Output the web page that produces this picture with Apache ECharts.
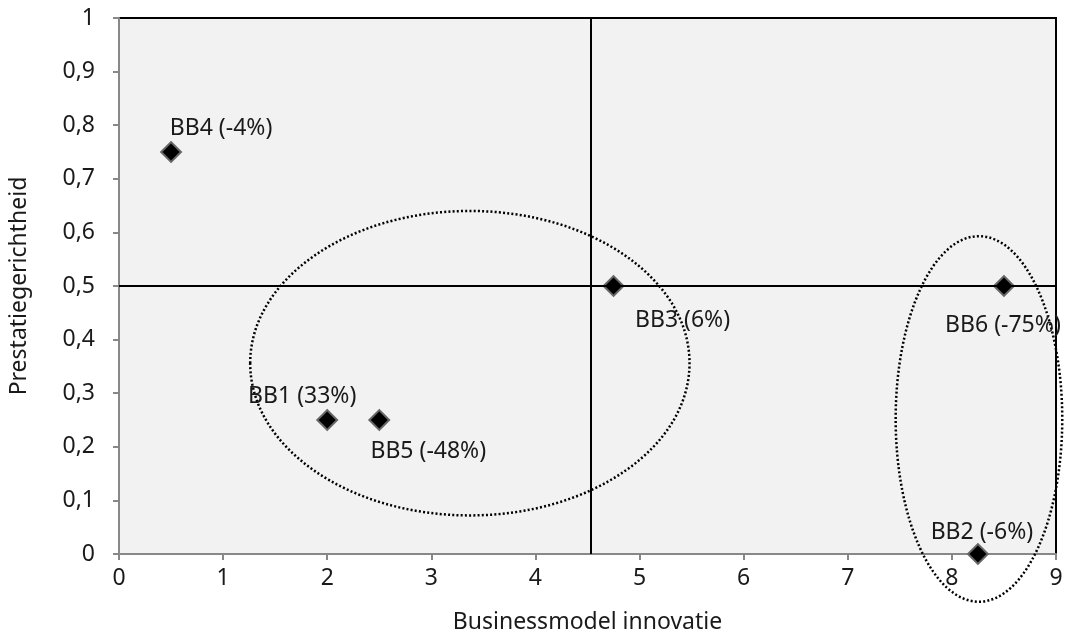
<!DOCTYPE html>
<html>
<head>
<meta charset="utf-8">
<script src="https://cdn.jsdelivr.net/npm/echarts@6/dist/echarts.min.js"></script>
<style>
  html, body { margin: 0; padding: 0; background: #fff; }
  #chart { width: 1067px; height: 635px; }
</style>
</head>
<body>
<div id="chart"></div>
<script>
// business units
const names = ['BB1', 'BB2', 'BB3', 'BB4', 'BB5', 'BB6'];
const changes = ['33%', '-6%', '6%', '-4%', '-48%', '-75%'];
const innovation = [2, 8.25, 4.75, 0.5, 2.5, 8.5];
const performance = [0.25, 0, 0.5, 0.75, 0.25, 0.5];

// quadrant lines
const splitX = 4.53;
const splitY = 0.5;

// dotted ellipses: center x, center y, radius x, radius y (data units)
const ellipses = [
  [3.37, 0.356, 2.11, 0.284],
  [8.26, 0.252, 0.80, 0.341]
];

// label offsets from marker center (px)
const labelOffset = {
  BB1: [-25, -24], BB2: [4, -22], BB3: [69, 34],
  BB4: [50, -24], BB5: [49, 31], BB6: [-1, 39]
};

const FONT = 'Noto Sans';
const FS = 23;

const chart = echarts.init(document.getElementById('chart'));

const points = names.map((n, i) => ({
  name: n,
  value: [innovation[i], performance[i]],
  label: {
    show: true,
    position: 'inside',
    offset: labelOffset[n],
    formatter: n + ' (' + changes[i] + ')'
  }
}));

const option = {
  animation: false,
  grid: {
    left: 119, right: 11, top: 18, bottom: 81,
    outerBoundsMode: 'none',
    containLabel: false,
    show: true,
    backgroundColor: '#f2f2f2',
    borderColor: '#000',
    borderWidth: 2
  },
  xAxis: {
    type: 'value',
    min: 0, max: 9, interval: 1,
    name: 'Businessmodel innovatie',
    nameLocation: 'middle',
    nameGap: 57,
    nameTextStyle: { fontFamily: FONT, fontSize: FS, color: '#1a1a1a' },
    axisLine: { show: true, onZero: false, lineStyle: { color: '#888', width: 2 } },
    axisTick: { show: true, length: 6, lineStyle: { color: '#888', width: 2 } },
    axisLabel: { fontFamily: FONT, fontSize: FS, color: '#1a1a1a', margin: 13 },
    splitLine: { show: false }
  },
  yAxis: {
    type: 'value',
    min: 0, max: 1, interval: 0.1,
    name: 'Prestatiegerichtheid',
    nameLocation: 'middle',
    nameGap: 88,
    nameTextStyle: { fontFamily: FONT, fontSize: FS, color: '#1a1a1a' },
    axisLine: { show: true, onZero: false, lineStyle: { color: '#888', width: 2 } },
    axisTick: { show: true, length: 6, lineStyle: { color: '#888', width: 2 } },
    axisLabel: {
      fontFamily: FONT, fontSize: FS, color: '#1a1a1a', margin: 24,
      formatter: v => String(Math.round(v * 10) / 10).replace('.', ',')
    },
    splitLine: { show: false }
  },
  series: [
    {
      type: 'custom',
      silent: true,
      clip: false,
      z: 1,
      data: ellipses,
      renderItem: (params, api) => {
        const c = api.coord([api.value(0), api.value(1)]);
        const s = api.size([api.value(2), api.value(3)]);
        return {
          type: 'ellipse',
          shape: { cx: c[0], cy: c[1], rx: s[0], ry: s[1] },
          style: {
            fill: null,
            stroke: '#000',
            lineWidth: 2.5,
            lineDash: [2, 2.2]
          }
        };
      }
    },
    {
      type: 'scatter',
      z: 3,
      symbol: 'rect',
      symbolSize: 14,
      symbolRotate: 45,
      itemStyle: { color: '#000', borderColor: '#666', borderWidth: 2, opacity: 1 },
      label: { fontFamily: FONT, fontSize: FS, color: '#1a1a1a' },
      data: points,
      markLine: {
        silent: true,
        symbol: 'none',
        label: { show: false },
        lineStyle: { color: '#000', width: 2, type: 'solid' },
        data: [{ xAxis: splitX }, { yAxis: splitY }]
      }
    }
  ]
};

chart.setOption(option);
</script>
</body>
</html>
